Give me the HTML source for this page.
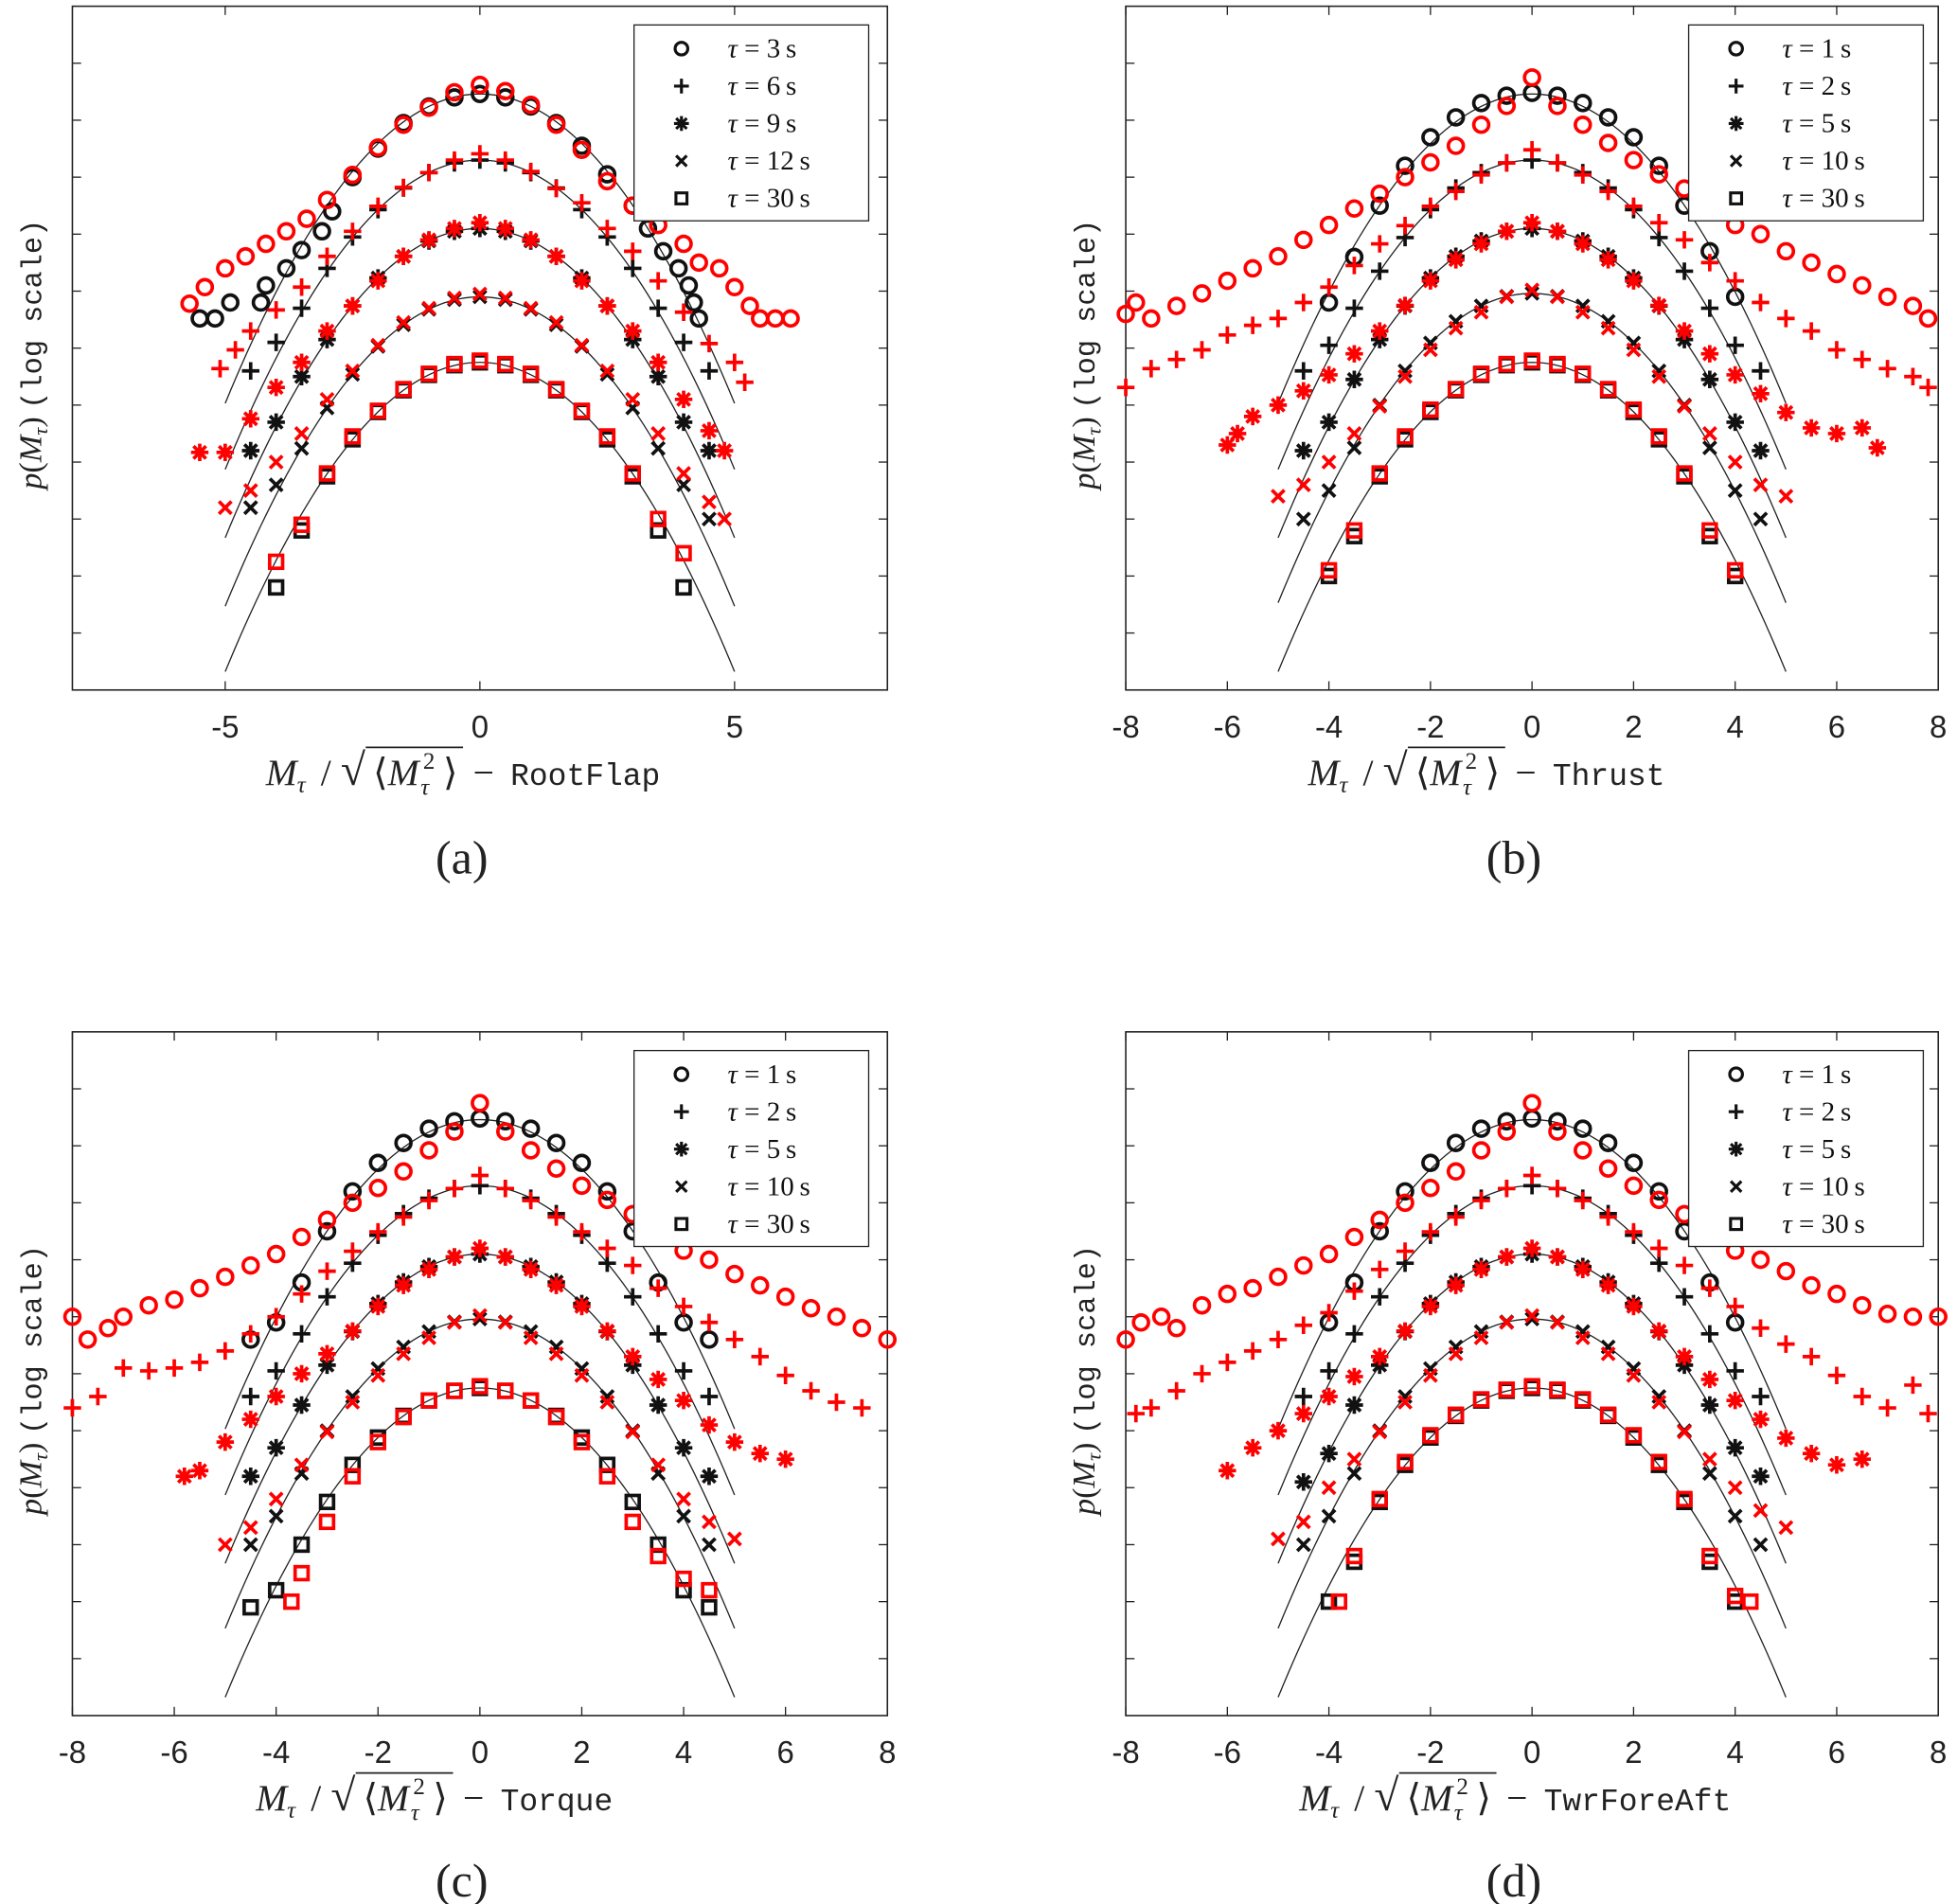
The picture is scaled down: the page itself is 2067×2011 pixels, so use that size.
<!DOCTYPE html>
<html><head><meta charset="utf-8">
<style>
html,body{margin:0;padding:0;background:#fff;}
svg{display:block;}
</style></head>
<body>
<svg id="fig" xmlns="http://www.w3.org/2000/svg" width="2067" height="2011" viewBox="0 0 1568 1526" preserveAspectRatio="none">
<rect x="0" y="0" width="1568" height="1526" fill="#fff"/>
</svg>
<script>
// ---------- shared grids ----------
const grid45 = [-4.5,-4,-3.5,-3,-2.5,-2,-1.5,-1,-0.5,0,0.5,1,1.5,2,2.5,3,3.5,4,4.5];
const grid4 = [-4,-3.5,-3,-2.5,-2,-1.5,-1,-0.5,0,0.5,1,1.5,2,2.5,3,3.5,4];

// ---------- panel (a) RootFlap ----------
const aTau = ['3','6','9','12','30'];
const aFitPeak = [-1.54,-2.7,-3.9,-5.1,-6.25];
const aBlackX = [
 [-5.5,-5.2,-4.9,-4.3,-4.2,-3.8,-3.5,-3.1,-2.9,-2.5,-2,-1.5,-1,-0.5,0,0.5,1,1.5,2,2.5,3,3.3,3.6,3.9,4.1,4.2,4.3],
 grid45, grid45, grid45, grid4];
const aBlackV = [
 [-5.48,-5.48,-5.2,-5.2,-4.9,-4.6,-4.28,-3.95,-3.6,-3.0,-2.5,-2.05,-1.76,-1.6,-1.54,-1.6,-1.76,-2.05,-2.45,-2.95,-3.5,-3.9,-4.3,-4.6,-4.9,-5.2,-5.48],
 [-6.4,-5.9,-5.3,-4.6,-4.05,-3.57,-3.19,-2.92,-2.75,-2.7,-2.75,-2.92,-3.19,-3.57,-4.05,-4.6,-5.3,-5.9,-6.4],
 [-7.8,-7.3,-6.5,-5.85,-5.26,-4.77,-4.39,-4.12,-3.95,-3.9,-3.95,-4.12,-4.39,-4.77,-5.26,-5.85,-6.5,-7.3,-7.8],
 [-8.8,-8.4,-7.76,-7.05,-6.46,-5.97,-5.59,-5.32,-5.15,-5.1,-5.15,-5.32,-5.59,-5.97,-6.46,-7.05,-7.76,-8.4,-9.0],
 [-10.2,-9.2,-8.25,-7.6,-7.12,-6.74,-6.47,-6.3,-6.25,-6.3,-6.47,-6.74,-7.12,-7.6,-8.25,-9.2,-10.2]];
const aRedX = [
 [-5.7,-5.4,-5,-4.6,-4.2,-3.8,-3.4,-3,-2.5,-2,-1.5,-1,-0.5,0,0.5,1,1.5,2,2.5,3,3.5,4,4.3,4.7,5,5.3,5.5,5.8,6.1],
 [-5.1,-4.8,-4.5,-4,-3.5,-3,-2.5,-2,-1.5,-1,-0.5,0,0.5,1,1.5,2,2.5,3,3.5,4,4.5,5,5.2],
 [-5.5,-5,-4.5,-4,-3.5,-3,-2.5,-2,-1.5,-1,-0.5,0,0.5,1,1.5,2,2.5,3,3.5,4,4.5,4.8],
 [-5,-4.5,-4,-3.5,-3,-2.5,-2,-1.5,-1,-0.5,0,0.5,1,1.5,2,2.5,3,3.5,4,4.5,4.8],
 grid4];
const aRedV = [
 [-5.22,-4.93,-4.6,-4.39,-4.17,-3.95,-3.73,-3.4,-2.96,-2.48,-2.08,-1.78,-1.51,-1.38,-1.49,-1.73,-2.08,-2.52,-3.07,-3.5,-3.84,-4.17,-4.5,-4.6,-4.93,-5.26,-5.48,-5.48,-5.48],
 [-6.36,-6.03,-5.7,-5.33,-4.93,-4.39,-3.95,-3.51,-3.18,-2.92,-2.7,-2.59,-2.7,-2.9,-3.2,-3.45,-3.9,-4.3,-4.82,-5.37,-5.92,-6.25,-6.6],
 [-7.83,-7.83,-7.24,-6.69,-6.25,-5.7,-5.26,-4.82,-4.39,-4.1,-3.9,-3.8,-3.9,-4.1,-4.39,-4.82,-5.26,-5.7,-6.25,-6.9,-7.45,-7.8],
 [-8.8,-8.5,-8.0,-7.5,-6.9,-6.4,-5.95,-5.55,-5.3,-5.12,-5.05,-5.12,-5.3,-5.55,-5.95,-6.4,-6.9,-7.5,-8.2,-8.7,-9.0],
 [-9.75,-9.1,-8.2,-7.55,-7.1,-6.72,-6.45,-6.28,-6.22,-6.28,-6.45,-6.72,-7.1,-7.55,-8.2,-9.0,-9.6]];

// ---------- panel (b) Thrust ----------
const bTau = ['1','2','5','10','30'];
const bFitPeak = [-1.54,-2.7,-3.9,-5.04,-6.25];
const bBlackX = [grid4, grid45, grid45, grid45, grid4];
const bBlackV = [
 [-5.2,-4.4,-3.5,-2.8,-2.3,-1.95,-1.7,-1.57,-1.52,-1.57,-1.7,-1.95,-2.3,-2.8,-3.5,-4.3,-5.1],
 [-6.4,-5.95,-5.3,-4.65,-4.06,-3.57,-3.19,-2.92,-2.75,-2.7,-2.75,-2.92,-3.19,-3.57,-4.06,-4.65,-5.3,-5.95,-6.4],
 [-7.8,-7.3,-6.55,-5.85,-5.26,-4.77,-4.39,-4.12,-3.95,-3.9,-3.95,-4.12,-4.39,-4.77,-5.26,-5.85,-6.55,-7.3,-7.8],
 [-9.0,-8.5,-7.75,-7.0,-6.4,-5.91,-5.53,-5.26,-5.09,-5.04,-5.09,-5.26,-5.53,-5.91,-6.4,-7.0,-7.75,-8.5,-9.0],
 [-10.0,-9.3,-8.25,-7.6,-7.12,-6.74,-6.47,-6.3,-6.25,-6.3,-6.47,-6.74,-7.12,-7.6,-8.25,-9.3,-10.0]];
const bRedX = [
 [-8,-7.8,-7.5,-7,-6.5,-6,-5.5,-5,-4.5,-4,-3.5,-3,-2.5,-2,-1.5,-1,-0.5,0,0.5,1,1.5,2,2.5,3,3.5,4,4.5,5,5.5,6,6.5,7,7.5,7.8],
 [-8,-7.5,-7,-6.5,-6,-5.5,-5,-4.5,-4,-3.5,-3,-2.5,-2,-1.5,-1,-0.5,0,0.5,1,1.5,2,2.5,3,3.5,4,4.5,5,5.5,6,6.5,7,7.5,7.8],
 [-6,-5.8,-5.5,-5,-4.5,-4,-3.5,-3,-2.5,-2,-1.5,-1,-0.5,0,0.5,1,1.5,2,2.5,3,3.5,4,4.5,5,5.5,6,6.5,6.8],
 [-5,-4.5,-4,-3.5,-3,-2.5,-2,-1.5,-1,-0.5,0,0.5,1,1.5,2,2.5,3,3.5,4,4.5,5],
 grid4];
const bRedV = [
 [-5.4,-5.2,-5.48,-5.26,-5.04,-4.82,-4.6,-4.39,-4.1,-3.84,-3.55,-3.29,-3.0,-2.74,-2.45,-2.08,-1.75,-1.25,-1.75,-2.08,-2.4,-2.7,-2.95,-3.2,-3.5,-3.84,-4.0,-4.3,-4.5,-4.7,-4.9,-5.1,-5.26,-5.48],
 [-6.69,-6.36,-6.2,-6.03,-5.77,-5.6,-5.48,-5.2,-4.93,-4.55,-4.17,-3.85,-3.51,-3.25,-2.96,-2.75,-2.52,-2.75,-2.96,-3.25,-3.51,-3.8,-4.1,-4.5,-4.82,-5.2,-5.48,-5.7,-6.03,-6.2,-6.36,-6.5,-6.69],
 [-7.7,-7.5,-7.2,-7.0,-6.75,-6.47,-6.1,-5.7,-5.25,-4.82,-4.45,-4.17,-3.95,-3.8,-3.95,-4.17,-4.45,-4.82,-5.25,-5.7,-6.1,-6.47,-6.8,-7.13,-7.4,-7.5,-7.4,-7.75],
 [-8.6,-8.4,-8.0,-7.5,-7.02,-6.5,-6.03,-5.65,-5.37,-5.1,-4.98,-5.1,-5.37,-5.65,-6.03,-6.5,-7.02,-7.5,-8.0,-8.4,-8.6],
 [-9.9,-9.2,-8.2,-7.55,-7.08,-6.72,-6.45,-6.28,-6.22,-6.28,-6.45,-6.72,-7.08,-7.55,-8.2,-9.2,-9.9]];

// ---------- panel (c) Torque ----------
const cTau = ['1','2','5','10','30'];
const cFitPeak = [-1.54,-2.7,-3.9,-5.04,-6.25];
const cBlackX = [grid45, grid45, grid45, grid45, grid45];
const cBlackV = [
 [-5.4,-5.1,-4.4,-3.5,-2.8,-2.3,-1.95,-1.7,-1.57,-1.52,-1.57,-1.7,-1.95,-2.3,-2.8,-3.5,-4.4,-5.1,-5.4],
 [-6.4,-5.95,-5.3,-4.65,-4.06,-3.57,-3.19,-2.92,-2.75,-2.7,-2.75,-2.92,-3.19,-3.57,-4.06,-4.65,-5.3,-5.95,-6.4],
 [-7.8,-7.3,-6.55,-5.85,-5.26,-4.77,-4.39,-4.12,-3.95,-3.9,-3.95,-4.12,-4.39,-4.77,-5.26,-5.85,-6.55,-7.3,-7.8],
 [-9.0,-8.5,-7.75,-7.0,-6.4,-5.91,-5.53,-5.26,-5.09,-5.04,-5.09,-5.26,-5.53,-5.91,-6.4,-7.0,-7.75,-8.5,-9.0],
 [-10.1,-9.8,-9.0,-8.25,-7.6,-7.12,-6.74,-6.47,-6.3,-6.25,-6.3,-6.47,-6.74,-7.12,-7.6,-8.25,-9.0,-9.8,-10.1]];
const cRedX = [
 [-8,-7.7,-7.3,-7,-6.5,-6,-5.5,-5,-4.5,-4,-3.5,-3,-2.5,-2,-1.5,-1,-0.5,0,0.5,1,1.5,2,2.5,3,3.5,4,4.5,5,5.5,6,6.5,7,7.5,8],
 [-8,-7.5,-7,-6.5,-6,-5.5,-5,-4.5,-4,-3.5,-3,-2.5,-2,-1.5,-1,-0.5,0,0.5,1,1.5,2,2.5,3,3.5,4,4.5,5,5.5,6,6.5,7,7.5],
 [-5.8,-5.5,-5,-4.5,-4,-3.5,-3,-2.5,-2,-1.5,-1,-0.5,0,0.5,1,1.5,2,2.5,3,3.5,4,4.5,5,5.5,6],
 [-5,-4.5,-4,-3.5,-3,-2.5,-2,-1.5,-1,-0.5,0,0.5,1,1.5,2,2.5,3,3.5,4,4.5,5],
 [-3.7,-3.5,-3,-2.5,-2,-1.5,-1,-0.5,0,0.5,1,1.5,2,2.5,3,3.5,4,4.5]];
const cRedV = [
 [-5.0,-5.4,-5.2,-5.0,-4.8,-4.7,-4.5,-4.3,-4.1,-3.9,-3.6,-3.3,-3.0,-2.74,-2.45,-2.08,-1.75,-1.25,-1.75,-2.08,-2.4,-2.7,-2.95,-3.2,-3.5,-3.84,-4.0,-4.25,-4.45,-4.65,-4.85,-5.0,-5.2,-5.4],
 [-6.6,-6.4,-5.9,-5.95,-5.9,-5.8,-5.6,-5.3,-5.0,-4.6,-4.2,-3.85,-3.51,-3.25,-2.96,-2.75,-2.52,-2.75,-2.96,-3.25,-3.51,-3.8,-4.1,-4.5,-4.82,-5.1,-5.4,-5.7,-6.03,-6.3,-6.5,-6.6],
 [-7.8,-7.7,-7.2,-6.8,-6.4,-6.0,-5.65,-5.25,-4.82,-4.45,-4.17,-3.95,-3.8,-3.95,-4.17,-4.45,-4.82,-5.25,-5.7,-6.1,-6.47,-6.9,-7.2,-7.4,-7.5],
 [-9.0,-8.7,-8.2,-7.6,-7.02,-6.5,-6.03,-5.65,-5.37,-5.1,-4.98,-5.1,-5.37,-5.65,-6.03,-6.5,-7.02,-7.6,-8.2,-8.6,-8.9],
 [-10.0,-9.5,-8.6,-7.8,-7.2,-6.76,-6.47,-6.3,-6.22,-6.3,-6.47,-6.76,-7.2,-7.8,-8.6,-9.2,-9.6,-9.8]];

// ---------- panel (d) TwrForeAft ----------
const dTau = ['1','2','5','10','30'];
const dFitPeak = [-1.54,-2.7,-3.9,-5.04,-6.25];
const dBlackX = [grid4, grid45, grid45, grid45, grid4];
const dBlackV = [
 [-5.1,-4.4,-3.5,-2.8,-2.3,-1.95,-1.7,-1.57,-1.52,-1.57,-1.7,-1.95,-2.3,-2.8,-3.5,-4.4,-5.1],
 [-6.4,-5.95,-5.3,-4.65,-4.06,-3.57,-3.19,-2.92,-2.75,-2.7,-2.75,-2.92,-3.19,-3.57,-4.06,-4.65,-5.3,-5.95,-6.4],
 [-7.9,-7.4,-6.55,-5.85,-5.26,-4.77,-4.39,-4.12,-3.95,-3.9,-3.95,-4.12,-4.39,-4.77,-5.26,-5.85,-6.55,-7.3,-7.8],
 [-9.0,-8.5,-7.75,-7.0,-6.4,-5.91,-5.53,-5.26,-5.09,-5.04,-5.09,-5.26,-5.53,-5.91,-6.4,-7.0,-7.75,-8.5,-9.0],
 [-10.0,-9.3,-8.25,-7.6,-7.12,-6.74,-6.47,-6.3,-6.25,-6.3,-6.47,-6.74,-7.12,-7.6,-8.25,-9.3,-10.0]];
const dRedX = [
 [-8,-7.7,-7.3,-7,-6.5,-6,-5.5,-5,-4.5,-4,-3.5,-3,-2.5,-2,-1.5,-1,-0.5,0,0.5,1,1.5,2,2.5,3,3.5,4,4.5,5,5.5,6,6.5,7,7.5,8],
 [-7.8,-7.5,-7,-6.5,-6,-5.5,-5,-4.5,-4,-3.5,-3,-2.5,-2,-1.5,-1,-0.5,0,0.5,1,1.5,2,2.5,3,3.5,4,4.5,5,5.5,6,6.5,7,7.5,7.8],
 [-6,-5.5,-5,-4.5,-4,-3.5,-3,-2.5,-2,-1.5,-1,-0.5,0,0.5,1,1.5,2,2.5,3,3.5,4,4.5,5,5.5,6,6.5],
 [-5,-4.5,-4,-3.5,-3,-2.5,-2,-1.5,-1,-0.5,0,0.5,1,1.5,2,2.5,3,3.5,4,4.5,5],
 [-3.8,-3.5,-3,-2.5,-2,-1.5,-1,-0.5,0,0.5,1,1.5,2,2.5,3,3.5,4,4.3]];
const dRedV = [
 [-5.4,-5.1,-5.0,-5.2,-4.8,-4.6,-4.5,-4.3,-4.1,-3.9,-3.6,-3.3,-3.0,-2.74,-2.45,-2.08,-1.75,-1.25,-1.75,-2.08,-2.4,-2.7,-2.95,-3.2,-3.5,-3.84,-4.0,-4.2,-4.45,-4.6,-4.8,-4.95,-5.0,-5.0],
 [-6.7,-6.6,-6.3,-6.0,-5.8,-5.6,-5.4,-5.15,-4.93,-4.55,-4.17,-3.85,-3.51,-3.25,-2.96,-2.75,-2.52,-2.75,-2.96,-3.25,-3.51,-3.8,-4.1,-4.5,-4.82,-5.2,-5.48,-5.7,-6.03,-6.4,-6.6,-6.2,-6.7],
 [-7.7,-7.3,-7.0,-6.7,-6.4,-6.05,-5.7,-5.25,-4.82,-4.45,-4.17,-3.95,-3.8,-3.95,-4.17,-4.45,-4.82,-5.25,-5.7,-6.1,-6.47,-6.8,-7.13,-7.4,-7.6,-7.5],
 [-8.9,-8.6,-8.0,-7.5,-7.02,-6.5,-6.03,-5.65,-5.37,-5.1,-4.98,-5.1,-5.37,-5.65,-6.03,-6.5,-7.02,-7.5,-8.0,-8.4,-8.7],
 [-10.0,-9.2,-8.2,-7.55,-7.08,-6.72,-6.45,-6.28,-6.22,-6.28,-6.45,-6.72,-7.08,-7.55,-8.2,-9.2,-9.9,-10.0]];

const xTickA = [-5,0,5];
const xTickFull = [-8,-6,-4,-2,0,2,4,6,8];
const yTickVals = [-1,-2,-3,-4,-5,-6,-7,-8,-9,-10,-11];
const markerKinds = ['circle','plus','asterisk','cross','square'];

const NS = 'http://www.w3.org/2000/svg';
const svg = document.getElementById('fig');
function mk(tag, attrs, parent){
  const e = document.createElementNS(NS, tag);
  for (const k in attrs) e.setAttribute(k, attrs[k]);
  (parent||svg).appendChild(e);
  return e;
}

function marker(g, kind, cx, cy, color, scale){
  const s = scale || 1;
  const sw = 2.8*s;
  if (kind==='circle'){
    mk('circle',{cx:cx,cy:cy,r:6*s,fill:'none',stroke:color,'stroke-width':sw},g);
  } else if (kind==='square'){
    mk('rect',{x:cx-5.2*s,y:cy-5.2*s,width:10.4*s,height:10.4*s,fill:'none',stroke:color,'stroke-width':sw},g);
  } else {
    let d='';
    const a=7*s, b=5*s;
    if (kind==='plus'||kind==='asterisk') d+=`M${cx-a},${cy}H${cx+a}M${cx},${cy-a}V${cy+a}`;
    if (kind==='cross'||kind==='asterisk') d+=`M${cx-b},${cy-b}L${cx+b},${cy+b}M${cx-b},${cy+b}L${cx+b},${cy-b}`;
    mk('path',{d:d,stroke:color,'stroke-width':sw,fill:'none'},g);
  }
}

function drawPanel(id, box, tau, fitPeak, bx, bv, rx, rv, xticks, name, titleX, capX, capY, legX){
  const g = mk('g',{});
  
  
  const sx = v => box.x0 + (v + 8) / 16 * (box.x1 - box.x0);
  const sy = v => box.y0 + (0 - v) / 12 * (box.y1 - box.y0);
  const frame = mk('rect',{x:box.x0,y:box.y0,width:box.x1-box.x0,height:box.y1-box.y0,fill:'#fff',stroke:'#222','stroke-width':1.2},g);
  
  
  yTickVals.forEach(v=>{
    const y = sy(v);
    mk('line',{x1:box.x0,y1:y,x2:box.x0+7,y2:y,stroke:'#222','stroke-width':1},g);
    mk('line',{x1:box.x1,y1:y,x2:box.x1-7,y2:y,stroke:'#222','stroke-width':1},g);
  });
  xticks.forEach(v=>{
    const x = sx(v);
    mk('line',{x1:x,y1:box.y1,x2:x,y2:box.y1-7,stroke:'#222','stroke-width':1},g);
    mk('line',{x1:x,y1:box.y0,x2:x,y2:box.y0+7,stroke:'#222','stroke-width':1},g);
    const t = mk('text',{x:x,y:box.y1+38,'text-anchor':'middle','font-family':'Liberation Sans, sans-serif','font-size':25,fill:'#222'},g);
    t.textContent = String(v);
    
    
  });
  fitPeak.forEach((p,i)=>{
    let d='';
    for (let k=0;k<=100;k++){
      const x = -5 + k*0.1;
      const v = p - x*x/(2*Math.LN10);
      d += (k?'L':'M') + sx(x).toFixed(2) + ',' + sy(v).toFixed(2);
    }
    const path = mk('path',{d:d,fill:'none',stroke:'#222','stroke-width':1},g);
    
    
  });
  bx.forEach((xs,i)=>{
    const sg = mk('g',{},g);
    
    
    xs.forEach((x,j)=>{ if (bv[i][j]!=null) marker(sg, markerKinds[i], sx(x), sy(bv[i][j]), '#111'); });
  });
  rx.forEach((xs,i)=>{
    const sg = mk('g',{},g);
    
    
    xs.forEach((x,j)=>{ if (rv[i][j]!=null) marker(sg, markerKinds[i], sx(x), sy(rv[i][j]), '#f00'); });
  });
  const lg = mk('g',{},g);
  
  
  mk('rect',{x:legX,y:box.y0+15,width:188,height:157,fill:'#fff',stroke:'#222','stroke-width':1},lg);
  tau.forEach((t,i)=>{
    const y = box.y0 + 34 + i*30;
    const eg = mk('g',{},lg);
    
    
    marker(eg, markerKinds[i], legX+38, y, '#111', 0.85);
    const tx = mk('text',{x:legX+75,y:y+7,'font-family':'Liberation Serif, serif','font-size':22,fill:'#111'},eg);
    tx.innerHTML = '<tspan font-style="italic">τ</tspan> = ' + t + '\u2009s';
  });
  const ylx = (id==='b' || id==='d') ? 877 : 33;
  const yl = mk('text',{transform:`translate(${ylx},${(box.y0+box.y1)/2+5}) rotate(-90)`,'text-anchor':'middle','font-family':'Liberation Serif, serif','font-size':26,fill:'#222'},g);
  yl.innerHTML = '<tspan font-style="italic">p</tspan>(<tspan font-style="italic">M</tspan><tspan font-size="17" dy="5" font-style="italic">τ</tspan><tspan dy="-5">) </tspan><tspan font-family="Liberation Mono, monospace" font-size="23">(log scale)</tspan>';
  
  
  // x title with positioned pieces
  const ty = box.y1 + 76;
  const xt = mk('text',{x:titleX,y:ty,'font-family':'Liberation Serif, serif','font-size':30,fill:'#222'},g);
  xt.innerHTML =
    '<tspan font-style="italic">M</tspan><tspan font-size="19" dy="6" font-style="italic">τ</tspan>' +
    '<tspan x="' + (titleX+44) + '" dy="-6">/</tspan>' +
    '<tspan x="' + (titleX+60) + '" font-size="36">√</tspan>' +
    '<tspan x="' + (titleX+86) + '">⟨</tspan><tspan font-style="italic">M</tspan>' +
    '<tspan x="' + (titleX+126) + '" font-size="19" dy="-13">2</tspan>' +
    '<tspan x="' + (titleX+124) + '" font-size="19" dy="21" font-style="italic">τ</tspan>' +
    '<tspan x="' + (titleX+142) + '" dy="-8">⟩</tspan>' +
    '<tspan x="' + (titleX+166) + '">−</tspan>' +
    '<tspan x="' + (titleX+196) + '" font-family="Liberation Mono, monospace" font-size="25">' + name + '</tspan>';
  
  
  mk('line',{x1:titleX+80,y1:ty-30,x2:titleX+158,y2:ty-30,stroke:'#222','stroke-width':1.4},g);
  const cp = mk('text',{x:capX,y:capY,'text-anchor':'middle','font-family':'Liberation Serif, serif','font-size':38,fill:'#222'},g);
  cp.textContent = '(' + id + ')';
  
  
}

drawPanel('a',{x0:58,x1:711,y0:5,y1:553},aTau,aFitPeak,aBlackX,aBlackV,aRedX,aRedV,xTickA,'RootFlap',213,370,700,508);
drawPanel('b',{x0:902,x1:1553,y0:5,y1:553},bTau,bFitPeak,bBlackX,bBlackV,bRedX,bRedV,xTickFull,'Thrust',1048,1213,700,1353);
drawPanel('c',{x0:58,x1:711,y0:827,y1:1375},cTau,cFitPeak,cBlackX,cBlackV,cRedX,cRedV,xTickFull,'Torque',205,370,1520,508);
drawPanel('d',{x0:902,x1:1553,y0:827,y1:1375},dTau,dFitPeak,dBlackX,dBlackV,dRedX,dRedV,xTickFull,'TwrForeAft',1041,1213,1520,1353);
</script>
</body></html>
